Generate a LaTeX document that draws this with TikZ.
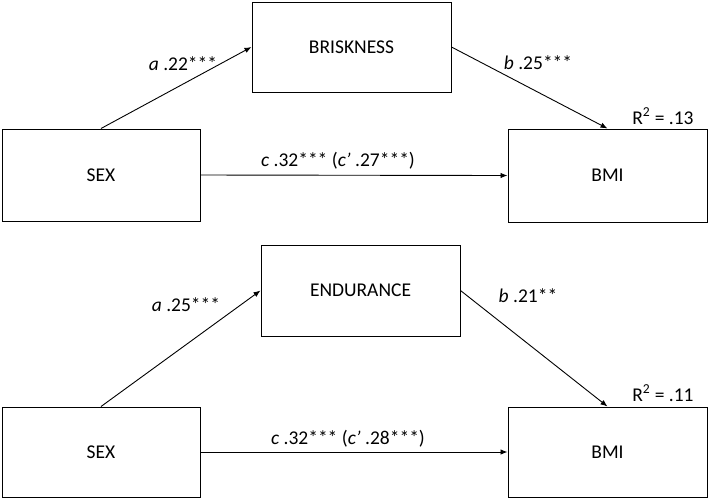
\documentclass[tikz,border=0pt]{standalone}
\usepackage{fontspec}
\setmainfont{Carlito}
\usetikzlibrary{arrows.meta}
\tikzset{
  box/.style={draw=black, line width=1pt, minimum width=#1, inner sep=0pt},
  box/.default=199pt,
  conn/.style={draw=black, line width=0.9pt, -{Latex[length=7pt,width=5.5pt]}},
  lbl/.style={inner sep=0pt, font=\fontsize{19.5}{23}\selectfont}
}
\begin{document}
\begin{tikzpicture}[x=1pt,y=-1pt, font=\fontsize{19.5}{23}\selectfont]
\useasboundingbox (0,0) rectangle (708,499);
% top panel
\node[box=198pt, minimum height=92pt] (sexA) at (101,175) {SEX};
\node[box, minimum height=90pt] (brisk) at (351.5,47) {BRISKNESS};
\node[box, minimum height=93pt] (bmiA) at (607.5,175.5) {BMI};
\draw[conn] (sexA.north) -- (brisk.west);
\draw[conn] (brisk.east) -- (bmiA.north);
\draw[conn] (sexA.east) -- (bmiA.west);
\node[lbl] (la) at (183,64) {\textit{a} .22***};
\node[lbl] (lb) at (538,63) {\textit{b} .25***};
\node[lbl] (lc) at (338,161) {\textit{c} .32*** (\textit{c’} .27***)};
\node[lbl] (rA) at (663,116) {R\textsuperscript{2} = .13};
% bottom panel
\node[box=198pt, minimum height=90pt] (sexB) at (101,452) {SEX};
\node[box, minimum height=91pt] (endu) at (360.5,290.5) {ENDURANCE};
\node[box, minimum height=90pt] (bmiB) at (607.5,452) {BMI};
\draw[conn] (sexB.north) -- (endu.west);
\draw[conn] (endu.east) -- (bmiB.north);
\draw[conn] (sexB.east) -- (bmiB.west);
\node[lbl] (la2) at (186,305) {\textit{a} .25***};
\node[lbl] (lb2) at (528,296) {\textit{b} .21**};
\node[lbl] (lc2) at (348,439) {\textit{c} .32*** (\textit{c’} .28***)};
\node[lbl] (rB) at (663,393) {R\textsuperscript{2} = .11};
\end{tikzpicture}
\end{document}
